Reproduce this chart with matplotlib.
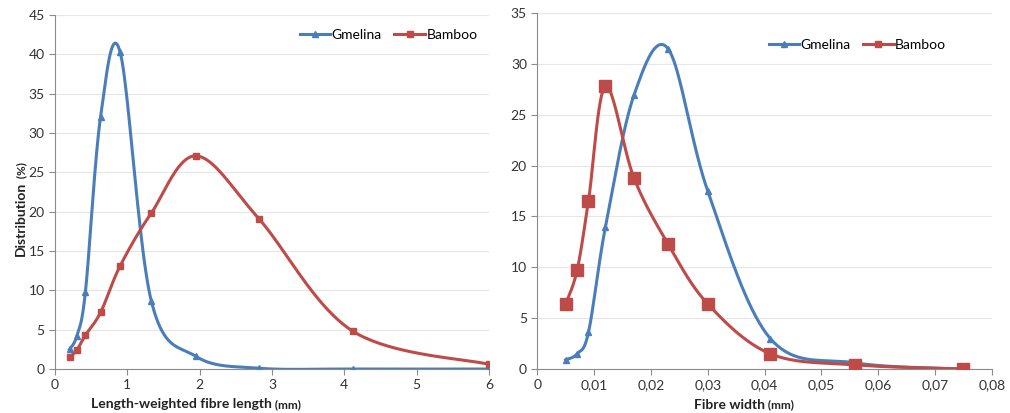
import numpy as np
import matplotlib
matplotlib.use("Agg")
import matplotlib.pyplot as plt
from matplotlib.ticker import FuncFormatter

plt.rcParams['font.family'] = ['Lato', 'DejaVu Sans']

# fibre length (mm) and distribution (%)
length_x = [0.2, 0.3, 0.42, 0.63, 0.9, 1.33, 1.95, 2.82, 4.12, 6.0]
length_gmelina = [2.5, 4.2, 9.8, 32.1, 40.3, 8.7, 1.6, 0.1, 0.0, 0.0]
length_bamboo = [1.5, 2.4, 4.3, 7.2, 13.1, 19.8, 27.1, 19.1, 4.8, 0.6]

# fibre width (mm) and distribution (%)
width_x = [0.005, 0.007, 0.009, 0.012, 0.017, 0.023, 0.030, 0.041, 0.056, 0.075]
width_gmelina = [0.9, 1.5, 3.6, 14.0, 26.9, 31.5, 17.5, 3.0, 0.6, 0.0]
width_bamboo = [6.4, 9.7, 16.5, 27.8, 18.8, 12.3, 6.4, 1.5, 0.4, 0.0]

BLUE = "#4a7ebb"
RED = "#be4b48"


#excel-like smoothed line through the points (catmull-rom bezier)
def smooth(x, y, n=40):
    x = np.asarray(x, float)
    y = np.asarray(y, float)
    xs, ys = [], []
    for i in range(len(x) - 1):
        p0 = (x[max(i - 1, 0)], y[max(i - 1, 0)])
        p1 = (x[i], y[i])
        p2 = (x[i + 1], y[i + 1])
        p3 = (x[min(i + 2, len(x) - 1)], y[min(i + 2, len(x) - 1)])
        c1 = (p1[0] + (p2[0] - p0[0]) / 6, p1[1] + (p2[1] - p0[1]) / 6)
        c2 = (p2[0] - (p3[0] - p1[0]) / 6, p2[1] - (p3[1] - p1[1]) / 6)
        t = np.linspace(0, 1, n)
        for k in range(2):
            b = ((1 - t) ** 3 * p1[k] + 3 * (1 - t) ** 2 * t * c1[k]
                 + 3 * (1 - t) * t ** 2 * c2[k] + t ** 3 * p2[k])
            (xs if k == 0 else ys).append(b)
    return np.concatenate(xs), np.concatenate(ys)


def style(ax):
    ax.grid(axis="y", color="#e6e6e6", lw=0.8)
    ax.set_axisbelow(True)
    for s in ["top", "right"]:
        ax.spines[s].set_visible(False)
    for s in ["left", "bottom"]:
        ax.spines[s].set_color("#8c8c8c")
    ax.tick_params(colors="#8c8c8c", labelcolor="#333333", labelsize=10,
                   length=4, direction="out")


def series(ax, x, y, color, marker, ms, label):
    sx, sy = smooth(x, y)
    ax.plot(sx, sy, color=color, lw=2.2, zorder=3)
    ax.plot(x, y, ls="none", marker=marker, ms=ms, color=color, zorder=4)
    ax.plot([], [], color=color, lw=2.2, marker=marker, ms=5, label=label)


def xlabel(ax, bold, unit):
    ax.text(0.5, -0.1, bold, transform=ax.transAxes, ha="right", va="center",
            fontsize=10, fontweight="bold", color="#222222")
    ax.text(0.5, -0.1, " " + unit, transform=ax.transAxes, ha="left", va="center",
            fontsize=8.5, fontweight="bold", color="#222222")


fig = plt.figure(figsize=(10.1, 4.13), dpi=100)

ax1 = fig.add_axes([0.0545, 0.1065, 0.4295, 0.857])
style(ax1)
series(ax1, length_x, length_gmelina, BLUE, "^", 5, "Gmelina")
series(ax1, length_x, length_bamboo, RED, "s", 5, "Bamboo")
ax1.set_xlim(0, 6)
ax1.set_ylim(0, 45)
ax1.set_xticks(range(0, 7))
ax1.set_yticks(range(0, 46, 5))
xlabel(ax1, "Length-weighted fibre length", "(mm)")
ax1.text(-0.078, 0.53, "Distribution", transform=ax1.transAxes, rotation=90,
         ha="center", va="top", fontsize=10, fontweight="bold", color="#222222")
ax1.text(-0.078, 0.53, " (%)", transform=ax1.transAxes, rotation=90,
         ha="center", va="bottom", fontsize=8.5, fontweight="bold", color="#222222")
ax1.legend(loc="center right", bbox_to_anchor=(0.99, 0.944), ncol=2, frameon=False,
           fontsize=10, handlelength=2.2, columnspacing=0.9, handletextpad=0.1,
           borderpad=0)

ax2 = fig.add_axes([0.532, 0.1065, 0.45, 0.862])
style(ax2)
series(ax2, width_x, width_gmelina, BLUE, "^", 5, "Gmelina")
series(ax2, width_x, width_bamboo, RED, "s", 8.5, "Bamboo")
ax2.set_xlim(0, 0.08)
ax2.set_ylim(0, 35)
ax2.set_xticks(np.arange(0, 0.081, 0.01))
ax2.set_yticks(range(0, 36, 5))
ax2.xaxis.set_major_formatter(FuncFormatter(
    lambda v, p: "0" if abs(v) < 1e-9 else ("%.2f" % v).replace(".", ",")))
xlabel(ax2, "Fibre width", "(mm)")
ax2.legend(loc="center right", bbox_to_anchor=(0.915, 0.91), ncol=2, frameon=False,
           fontsize=10, handlelength=2.2, columnspacing=0.9, handletextpad=0.1,
           borderpad=0)

fig.savefig("out.png", dpi=100)
